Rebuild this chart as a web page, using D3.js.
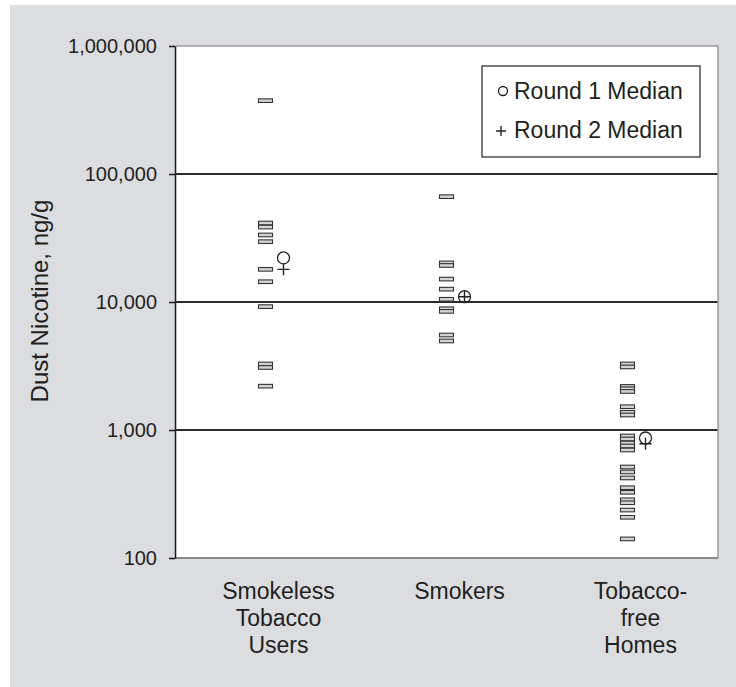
<!DOCTYPE html>
<html>
<head>
<meta charset="utf-8">
<script src="https://cdn.jsdelivr.net/npm/d3@7"></script>
<style>
  html, body { margin: 0; padding: 0; background: #fff; }
  text { font-family: "Liberation Sans", Arial, sans-serif; fill: #231f20; }
</style>
</head>
<body>
<svg id="chart" width="736" height="687"></svg>
<script>
const categories = ["Smokeless Tobacco Users", "Smokers", "Tobacco-free Homes"];
const categoryLines = [["Smokeless", "Tobacco", "Users"], ["Smokers"], ["Tobacco-", "free", "Homes"]];
const smokeless = [374000, 41400, 38500, 33400, 29600, 18000, 14400, 9200, 3280, 3080, 2200];
const smokers = [66500, 20200, 19300, 15100, 12600, 10500, 8850, 8450, 5520, 4960];
const tobaccoFree = [3280, 3110, 2190, 2100, 2000, 1520, 1375, 1310, 898, 851, 791, 750, 698, 514, 470, 422, 354, 326, 285, 270, 237, 208, 141];
const round1Median = [22100, 11000, 866];
const round2Median = [18000, 11000, 780];
const yTicks = [100, 1000, 10000, 100000, 1000000];
const gridValues = [1000, 10000, 100000];
const legendLabels = ["Round 1 Median", "Round 2 Median"];
const yTitle = "Dust Nicotine, ng/g";

const groups = [smokeless, smokers, tobaccoFree];

const svg = d3.select("#chart");
const L = 175, R = 718, T = 46, B = 558;

svg.append("rect").attr("x", 10).attr("y", 5).attr("width", 726).attr("height", 682).attr("fill", "#dcdde0");
svg.append("rect").attr("x", L).attr("y", T).attr("width", R - L).attr("height", B - T).attr("fill", "#fff");

const y = d3.scaleLog().domain([100, 1000000]).range([B, T]);
const x = d3.scaleBand().domain(categories).range([L, R]);
const bw = x.bandwidth();

// gridlines
svg.append("g").selectAll("line").data(gridValues).join("line")
  .attr("x1", L).attr("x2", R)
  .attr("y1", d => y(d)).attr("y2", d => y(d))
  .attr("stroke", "#2a2a2a").attr("stroke-width", 2.2);

// border top/right/bottom
svg.append("path").attr("d", `M${L},${T}H${R}V${B}`).attr("fill", "none").attr("stroke", "#9a9a9a").attr("stroke-width", 1.5);
svg.append("line").attr("x1", L).attr("x2", R).attr("y1", B).attr("y2", B).attr("stroke", "#888").attr("stroke-width", 2);

// y axis
const yAxis = svg.append("g").attr("transform", `translate(${L},0)`)
  .call(d3.axisLeft(y).tickValues(yTicks).tickFormat(d3.format(",")).tickSize(6).tickSizeOuter(0).tickPadding(12));
yAxis.select(".domain").attr("stroke", "#222").attr("stroke-width", 1.6);
yAxis.selectAll(".tick line").attr("stroke", "#222").attr("stroke-width", 1.6);
yAxis.selectAll(".tick text").attr("font-size", 20).attr("font-family", "Liberation Sans, Arial, sans-serif").attr("fill", "#231f20");

// y title
svg.append("text").attr("transform", `translate(48,${(T + B) / 2 - 1}) rotate(-90)`)
  .attr("text-anchor", "middle").attr("font-size", 24).text(yTitle);

// data markers
groups.forEach((vals, i) => {
  const cx = x(categories[i]) + bw / 2;
  svg.append("g").selectAll("rect").data(vals).join("rect")
    .attr("x", cx - 7).attr("y", d => y(d) - 1.8)
    .attr("width", 14).attr("height", 3.6)
    .attr("fill", "#d4d4d4").attr("stroke", "#333").attr("stroke-width", 1.1);
});

// medians
const medOff = 18;
svg.append("g").selectAll("circle").data(round1Median).join("circle")
  .attr("cx", (d, i) => x(categories[i]) + bw / 2 + medOff)
  .attr("cy", d => y(d)).attr("r", 6)
  .attr("fill", "none").attr("stroke", "#222").attr("stroke-width", 1.3);
svg.append("g").selectAll("path").data(round2Median).join("path")
  .attr("d", (d, i) => {
    const cx = x(categories[i]) + bw / 2 + medOff, cy = y(d);
    return `M${cx - 6},${cy}H${cx + 6}M${cx},${cy - 6}V${cy + 6}`;
  })
  .attr("fill", "none").attr("stroke", "#222").attr("stroke-width", 1.4);

// category labels
categoryLines.forEach((lines, i) => {
  const cx = x(categories[i]) + bw / 2 + 13;
  const t = svg.append("text").attr("text-anchor", "middle").attr("font-size", 23);
  lines.forEach((ln, j) => {
    t.append("tspan").attr("x", cx).attr("y", 599 + j * 27).text(ln);
  });
});

// legend
svg.append("rect").attr("x", 482).attr("y", 66).attr("width", 218).attr("height", 91)
  .attr("fill", "#fff").attr("stroke", "#333").attr("stroke-width", 1.3);
svg.append("circle").attr("cx", 503).attr("cy", 91).attr("r", 4.5)
  .attr("fill", "none").attr("stroke", "#222").attr("stroke-width", 1.3);
svg.append("path").attr("d", "M496,131H506M501,126V136")
  .attr("fill", "none").attr("stroke", "#222").attr("stroke-width", 1.4);
legendLabels.forEach((lab, i) => {
  svg.append("text").attr("x", 514).attr("y", 99 + i * 39).attr("font-size", 23).text(lab);
});
</script>
</body>
</html>
